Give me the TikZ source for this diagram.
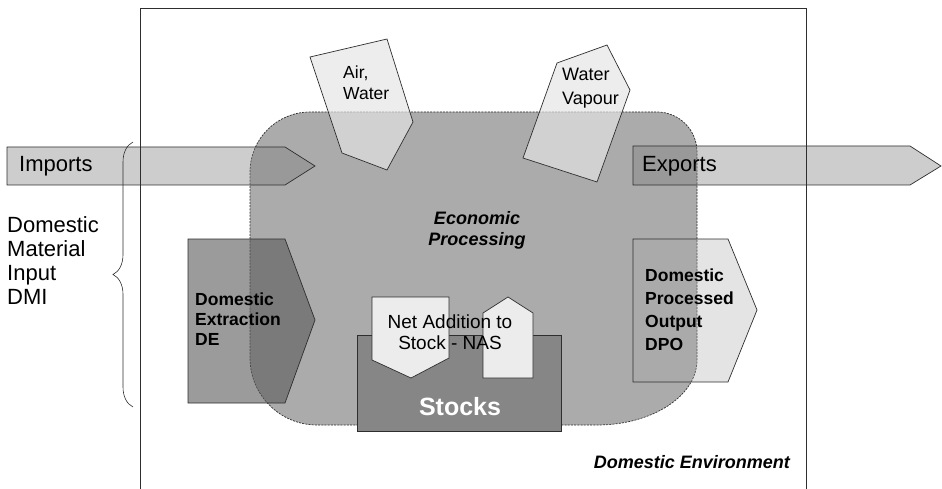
\documentclass[tikz,border=0pt]{standalone}
\usepackage{fontspec}
\setmainfont{Liberation Sans}
\usetikzlibrary{decorations.pathreplacing}

\definecolor{procgray}{HTML}{ABABAB}
\definecolor{flowgray}{HTML}{7F7F7F}
\definecolor{extrgray}{HTML}{5B5B5B}
\definecolor{dpogray}{HTML}{AAAAAA}
\definecolor{stockgray}{HTML}{868686}
\definecolor{paleshape}{HTML}{E4E4E4}
\definecolor{edgegray}{HTML}{2E2E2E}

\tikzset{
  outline/.style={draw=edgegray, line width=0.7pt, line join=miter},
  lbl/.style={inner sep=0pt, text=black},
}

\begin{document}
\begin{tikzpicture}[x=1pt, y=-1pt]
\useasboundingbox (0,0) rectangle (942,489);

% economic processing area
\path[fill=procgray, draw=edgegray, line width=0.7pt, dash pattern=on 2pt off 1.2pt]
  (250,172) .. controls (250,138.9) and (276.9,112) .. (310,112)
  -- (657,112) .. controls (679.1,112) and (697,129.9) .. (697,152)
  -- (697,360) .. controls (697,395.9) and (652.2,425) .. (597,425)
  -- (317,425) .. controls (280,425) and (250,395) .. (250,358) -- cycle;

% stocks
\path[outline, fill=stockgray] (357,335) rectangle (561,431);

% net addition to stock shapes
\path[outline, fill=paleshape!70!white] (372,297) -- (449,297) -- (449,358) -- (411,378) -- (372,360) -- cycle;
\path[outline, fill=paleshape!70!white] (483,378) -- (533,378) -- (533,313) -- (508,297) -- (483,313) -- cycle;

% flows through the economy
\path[outline, fill=flowgray, fill opacity=0.39] (7,147) -- (285,147) -- (315,166) -- (285,185) -- (7,185) -- cycle;
\path[outline, fill=flowgray, fill opacity=0.39] (633,146) -- (910,146) -- (941,166) -- (910,185) -- (633,185) -- cycle;
\path[outline, fill=extrgray, fill opacity=0.61] (188,239) -- (285,239) -- (315,320) -- (285,403) -- (188,403) -- cycle;
\path[outline, fill=dpogray, fill opacity=0.32] (633,239) -- (728,239) -- (757,310) -- (728,382) -- (633,382) -- cycle;

% air, water and water vapour
\path[outline, fill=paleshape, fill opacity=0.67] (310,57) -- (387,39) -- (413,122) -- (387,170) -- (342,153) -- cycle;
\path[outline, fill=paleshape, fill opacity=0.67] (557,63) -- (607,45) -- (630,90) -- (597,182) -- (523,158) -- cycle;

% domestic environment boundary
\draw[edgegray, line width=0.6pt] (140,489) -- (140,8) -- (806,8) -- (806,489);

% brace for domestic material input
\draw[edgegray, line width=0.6pt, decorate, decoration={brace, amplitude=20pt}] (133,407) -- (133,142);

% labels
\node[lbl, anchor=west, align=left, font=\fontsize{22}{24}\selectfont] (dmi) at (7,261) {Domestic\\Material\\Input\\DMI};
\node[lbl, anchor=west, font=\fontsize{22}{24}\selectfont] (imports) at (19,166) {Imports};
\node[lbl, anchor=west, font=\fontsize{22}{24}\selectfont] (exports) at (642,166) {Exports};
\node[lbl, anchor=west, align=left, font=\bfseries\fontsize{17.5}{20}\selectfont] (de) at (195,319) {Domestic\\Extraction\\DE};
\node[lbl, anchor=west, align=left, font=\bfseries\fontsize{17.5}{23}\selectfont] (dpo) at (645,310) {Domestic\\Processed\\Output\\DPO};
\node[lbl, anchor=west, align=left, font=\fontsize{17.5}{21}\selectfont] (air) at (343,83) {Air,\\Water};
\node[lbl, anchor=west, align=left, font=\fontsize{18}{24}\selectfont] (vapour) at (562,88) {Water\\Vapour};
\node[lbl, align=center, font=\bfseries\itshape\fontsize{18}{21}\selectfont] (econ) at (477,230) {Economic\\Processing};
\node[lbl, align=center, font=\fontsize{19}{21}\selectfont] (nas) at (450,332) {Net Addition to\\Stock - NAS};
\node[lbl, text=white, font=\bfseries\fontsize{25}{28}\selectfont] (stocks) at (460,407) {Stocks};
\node[lbl, anchor=east, font=\bfseries\itshape\fontsize{18}{21}\selectfont] (env) at (790,462) {Domestic Environment};
\end{tikzpicture}
\end{document}
